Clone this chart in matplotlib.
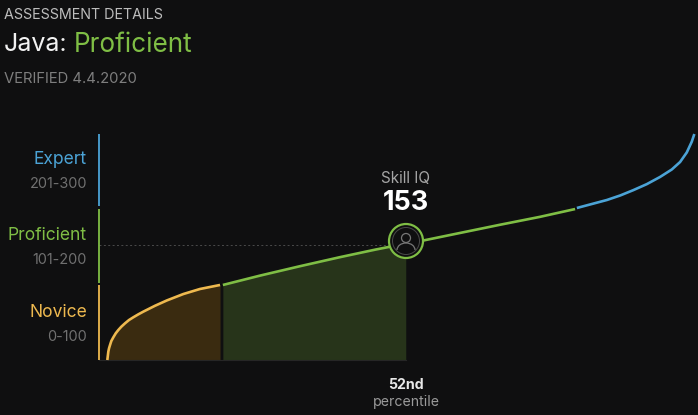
import matplotlib
matplotlib.use("Agg")
import matplotlib.pyplot as plt
from matplotlib.patches import Arc, Ellipse

plt.rcParams['font.family'] = ['Inter', 'DejaVu Sans']

# curve: percentile / skill iq
novice_x = [0.05, 0.22, 0.34, 0.51, 0.73, 1.07, 1.48, 1.92, 2.43, 3.06, 3.74, 4.47, 5.32, 6.17, 8.16, 10.15, 12.98, 15.82, 19.22]
novice_y = [0, 11, 15.5, 19.9, 25.2, 30.1, 35.4, 39.8, 44.2, 48.7, 53.1, 56.7, 60.6, 64.2, 72, 79, 87.6, 94.3, 99.6]
prof_x = [19.7, 26, 32.8, 39.6, 45.6, 50.8, 53.7, 60, 66.8, 73.6, 79.6]
prof_y = [99.6, 112, 124.5, 136.5, 146.5, 154.5, 158.5, 168.6, 179.5, 190, 200.4]
expert_x = [79.9, 85, 87.3, 89.5, 91.8, 94.05, 96.04, 97.45, 98.59, 99.44, 99.88]
expert_y = [201.8, 212.4, 218.5, 225.5, 233.5, 243, 252.9, 262.8, 275.5, 289.8, 300]

bands = ['Expert', 'Proficient', 'Novice']
ranges = ['201-300', '101-200', '0-100']
band_lo = [204, 102, 0]
band_hi = [300, 200, 100]
score = 153
score_pct = 50.8
fill_end = 50.8

BG = '#0f0f10'
YELLOW = '#eeb94f'
GREEN = '#7fbe45'
BLUE = '#4ba3d6'
band_cols = [BLUE, GREEN, YELLOW]

fig = plt.figure(figsize=(6.98, 4.15), dpi=100, facecolor=BG)
ax = fig.add_axes([0, 0, 1, 1], facecolor=BG)
ax.set_xlim(-18.2, 100.5)
ax.set_ylim(-73, 477.9)
ax.axis('off')


def px(x, y):
    # reference pixels to axes fraction
    return x / 698, 1 - y / 415


def label(x, y, s, **kw):
    ax.text(*px(x, y), s, transform=ax.transAxes, va='center', **kw)


# shaded areas under the curve
prof_fill = [i for i, v in enumerate(prof_x) if v <= fill_end]
ax.fill_between(novice_x, novice_y, 0, color='#3a2b10', lw=0)
ax.fill_between([prof_x[i] for i in prof_fill], [prof_y[i] for i in prof_fill], 0, color='#27341a', lw=0)
ax.plot([-1.4, 50.8], [0, 0], color='#262626', lw=0.8)

# dotted level line
ax.plot([-1.4, score_pct], [score, score], color='#4a4a4a', lw=0.7, ls=(0, (2, 2.5)))

# the curve itself
ax.plot(novice_x, novice_y, color=YELLOW, lw=1.9, solid_capstyle='butt')
ax.plot(prof_x, prof_y, color=GREEN, lw=1.9, solid_capstyle='butt')
ax.plot(expert_x, expert_y, color=BLUE, lw=1.9, solid_capstyle='butt')

# band bars on the left
for lo, hi, c in zip(band_lo, band_hi, band_cols):
    ax.plot([-1.4, -1.4], [lo, hi], color=c, lw=1.3, solid_capstyle='butt')

# marker with person icon, built in pixels so it stays round
cx, cy = px(406, 241)
tr = ax.transAxes
w, h = 1 / 698, 1 / 415
ax.add_patch(Ellipse((cx, cy), 34 * w, 34 * h, transform=tr, fc=BG, ec=GREEN, lw=1.6, zorder=5))
ax.add_patch(Ellipse((cx, cy), 27 * w, 27 * h, transform=tr, fc=BG, ec='#4a4a4a', lw=0.7, zorder=6))
ax.add_patch(Ellipse((cx, cy + 3 * h), 9 * w, 9 * h, transform=tr, fc='none', ec='#777777', lw=0.9, zorder=7))
ax.add_patch(Arc((cx, cy - 9 * h), 18 * w, 14 * h, theta1=0, theta2=180, transform=tr, ec='#777777', lw=0.9, zorder=7))

# header
label(4, 15, 'ASSESSMENT DETAILS', color='#bdbdbd', fontsize=10.3)
label(4, 44.5, 'Java:', color='#f2f2f2', fontsize=18)
label(74, 44.5, 'Proficient', color=GREEN, fontsize=18.8)
label(4, 79, 'VERIFIED 4.4.2020', color='#7e7e7e', fontsize=10.7)

# band labels
band_ypx = [159, 235, 312]
for name, rng, c, yy in zip(bands, ranges, band_cols, band_ypx):
    label(87, yy, name, color=c, fontsize=12.6, ha='right')
    label(87, yy + 25, rng, color='#707070', fontsize=10.4, ha='right')

label(406, 178, 'Skill IQ', color='#a5a5a5', fontsize=11, ha='center')
label(406, 203, str(score), color='#ffffff', fontsize=19.5, fontweight='bold', ha='center')
label(406, 385, '52nd', color='#e8e8e8', fontsize=10.2, fontweight='bold', ha='center')
label(406, 402, 'percentile', color='#9a9a9a', fontsize=10.2, ha='center')

fig.savefig('out.png', dpi=100, facecolor=BG)
